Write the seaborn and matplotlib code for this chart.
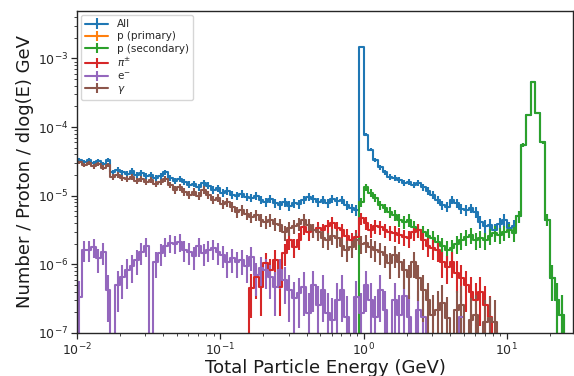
import numpy as np
import matplotlib
matplotlib.use("Agg")
import matplotlib.pyplot as plt
import seaborn as sns

# ---- data (per-bin values, 30 log bins per decade starting at 0.01 GeV) ----
labels = ["All", "p (primary)", "p (secondary)", r"$\pi^{\pm}$", r"e$^{-}$", r"$\gamma$"]

green = [0]*59 + [
    8.0e-6, 1.34e-5, 1.1e-5, 9.3e-6, 7.35e-6, 6.6e-6, 5.8e-6, 5.25e-6, 4.44e-6, 4.15e-6,
    4.44e-6, 3.5e-6, 3.17e-6, 2.95e-6, 2.6e-6, 2.4e-6, 2.1e-6, 1.85e-6, 1.62e-6, 1.72e-6,
    2.0e-6, 2.27e-6, 2.51e-6, 2.68e-6, 2.27e-6, 2.4e-6, 2.27e-6, 2.6e-6, 2.87e-6, 2.68e-6,
    2.95e-6, 3.17e-6, 2.87e-6, 5.0e-6, 5.5e-5, 1.5e-4, 4.6e-4, 1.6e-4, 6.0e-5, 4.5e-6,
    6.3e-7, 3.0e-7, 1.8e-7, 0, 0]

all_vals = [
    3.3e-5, 3.1e-5, 3.3e-5, 3.0e-5, 3.2e-5, 2.9e-5, 3.3e-5, 2.2e-5, 2.4e-5, 2.2e-5,
    2.1e-5, 2.3e-5, 2.0e-5, 2.15e-5, 1.95e-5, 2.0e-5, 1.8e-5, 1.95e-5, 2.2e-5, 1.8e-5,
    1.65e-5, 1.75e-5, 1.6e-5, 1.45e-5, 1.5e-5, 1.34e-5, 1.55e-5, 1.4e-5, 1.22e-5, 1.3e-5,
    1.1e-5, 1.18e-5, 1.03e-5, 1.0e-5, 1.06e-5, 9.6e-6, 9.3e-6, 1.0e-5, 8.7e-6, 8.1e-6,
    9.0e-6, 7.8e-6, 7.35e-6, 8.1e-6, 7.1e-6, 7.8e-6, 7.6e-6, 8.7e-6, 9.6e-6, 9.0e-6,
    8.1e-6, 8.7e-6, 7.8e-6, 9.0e-6, 8.4e-6, 8.7e-6, 7.35e-6, 6.6e-6, 6.2e-6, 1.48e-3,
    7.7e-5, 4.7e-5, 3.3e-5, 2.6e-5, 2.2e-5, 1.88e-5, 1.8e-5, 1.7e-5, 1.54e-5, 1.6e-5,
    1.44e-5, 1.54e-5, 1.34e-5, 1.18e-5, 1.03e-5, 8.7e-6, 7.35e-6, 6.9e-6, 8.7e-6, 7.8e-6,
    6.4e-6, 6.2e-6, 6.6e-6, 5.8e-6, 4.15e-6, 3.6e-6, 3.75e-6, 3.17e-6, 3.85e-6, 4.44e-6,
    3.35e-6, 3.6e-6, 5.0e-6, 5.5e-5, 1.5e-4, 4.6e-4, 1.6e-4, 6.0e-5, 4.5e-6, 6.3e-7,
    3.0e-7, 1.8e-7, 0, 0]

primary = [0]*104

pion = [0]*36 + [
    4.5e-7, 6.5e-7, 4.7e-7, 1.05e-6, 8.3e-7, 1.16e-6, 4.7e-7, 1.47e-6, 2.27e-6, 1.79e-6,
    2.27e-6, 3.5e-6, 2.95e-6, 3.17e-6, 3.35e-6, 3.17e-6, 3.6e-6, 4.0e-6, 3.35e-6, 3.17e-6,
    2.6e-6, 2.27e-6, 2.51e-6, 4.7e-6, 4.0e-6, 3.17e-6, 3.6e-6, 3.5e-6, 3.17e-6, 2.95e-6,
    2.87e-6, 2.68e-6, 2.51e-6, 2.4e-6, 2.95e-6, 3.17e-6, 2.27e-6, 1.85e-6, 1.72e-6, 1.62e-6,
    1.08e-6, 9.2e-7, 1.08e-6, 7.5e-7, 6.3e-7, 5.0e-7, 3.9e-7, 3.0e-7, 3.9e-7, 2.6e-7,
    1.7e-7] + [0]*17

electron = [
    3.3e-7, 1.62e-6, 1.62e-6, 1.79e-6, 1.22e-6, 1.5e-6, 4.2e-7, 0, 5.0e-7, 6.5e-7,
    8.3e-7, 9.5e-7, 1.16e-6, 1.5e-6, 1.85e-6, 0, 1.08e-6, 1.47e-6, 1.85e-6, 2.05e-6,
    2.0e-6, 2.15e-6, 1.62e-6, 1.5e-6, 1.32e-6, 1.85e-6, 1.47e-6, 1.62e-6, 1.72e-6, 1.5e-6,
    1.37e-6, 1.08e-6, 1.22e-6, 1.08e-6, 1.16e-6, 9.5e-7, 1.28e-6, 7.0e-7, 8.9e-7, 8.3e-7,
    6.5e-7, 4.7e-7, 8.3e-7, 5.9e-7, 4.2e-7, 3.2e-7, 3.8e-7, 4.7e-7, 1.96e-7, 5.0e-7,
    2.6e-7, 4.2e-7, 1.96e-7, 1.55e-7, 3.0e-7, 4.2e-7, 1.71e-7, 0, 3.35e-7, 1.96e-7,
    5.0e-7, 3.0e-7, 1.71e-7, 4.2e-7, 2.16e-7, 0, 3.0e-7, 1.8e-7, 3.5e-7, 1.71e-7,
    0, 2.16e-7, 1.7e-7, 0, 0, 0, 0, 0, 0, 0,
    1.7e-7] + [0]*23

gamma = [
    3.1e-5, 2.8e-5, 3.0e-5, 2.7e-5, 2.9e-5, 2.55e-5, 2.8e-5, 1.88e-5, 2.0e-5, 1.8e-5,
    1.75e-5, 1.88e-5, 1.65e-5, 1.75e-5, 1.6e-5, 1.7e-5, 1.5e-5, 1.6e-5, 1.75e-5, 1.44e-5,
    1.22e-5, 1.34e-5, 1.14e-5, 1.03e-5, 1.14e-5, 1.0e-5, 1.22e-5, 1.03e-5, 8.7e-6, 9.3e-6,
    7.6e-6, 8.1e-6, 6.9e-6, 5.8e-6, 6.2e-6, 5.4e-6, 4.9e-6, 5.25e-6, 4.44e-6, 4.15e-6,
    4.44e-6, 3.85e-6, 3.75e-6, 2.95e-6, 3.35e-6, 3.6e-6, 3.85e-6, 4.44e-6, 3.75e-6, 3.17e-6,
    2.95e-6, 2.4e-6, 2.27e-6, 2.6e-6, 2.4e-6, 1.85e-6, 1.62e-6, 1.79e-6, 2.27e-6, 2.0e-6,
    2.05e-6, 1.79e-6, 1.62e-6, 1.5e-6, 1.37e-6, 1.05e-6, 1.37e-6, 1.08e-6, 8.3e-7, 6.5e-7,
    1.08e-6, 6.3e-7, 4.2e-7, 3.0e-7, 1.8e-7, 2.16e-7, 2.74e-7, 1.65e-7, 0, 2.16e-7,
    2.6e-7, 0, 1.55e-7, 1.8e-7, 0, 1.45e-7, 1.65e-7, 1.45e-7] + [0]*16

series = [all_vals, primary, green, pion, electron, gamma]

# ---- binning / style ----
n_bins = 104
edges = np.logspace(-2, -2 + n_bins / 30.0, n_bins + 1)
centers = np.sqrt(edges[:-1] * edges[1:])
UNIT = 1.8e-7  # value of one entry, sets Poisson error bars

sns.set_style("ticks")
palette = sns.color_palette("tab10")
plt.rcParams["font.family"] = ["DejaVu Sans"]

fig = plt.figure(figsize=(5.74, 3.76), dpi=100)
ax = fig.add_axes([77 / 574, 1 - 333 / 376, 496 / 574, 322 / 376])

for i, (lab, vals) in enumerate(zip(labels, series)):
    v = np.asarray(vals, dtype=float)
    err = np.sqrt(v * UNIT)
    ax.errorbar(centers, v, yerr=err, drawstyle="steps-mid", color=palette[i],
                lw=1.5, elinewidth=1.5, capsize=0, label=lab)

ax.set_xscale("log")
ax.set_yscale("log", nonpositive="clip")
ax.set_xlim(0.01, 29)
ax.set_ylim(1e-7, 4.9e-3)

ax.set_xlabel("Total Particle Energy (GeV)", fontsize=13, color="0.1", labelpad=1)
ax.set_ylabel("Number / Proton / dlog(E) GeV", fontsize=13, color="0.1", labelpad=3)
ax.tick_params(which="major", labelsize=9, length=4, width=0.9, colors="0.15", pad=2)
ax.tick_params(which="minor", length=2.2, width=0.6, colors="0.15")
for s in ax.spines.values():
    s.set_linewidth(1.0)
    s.set_color("0.15")

leg = ax.legend(loc="upper left", fontsize=7.5, labelspacing=0.2, handlelength=2.2,
                handletextpad=0.8, borderpad=0.4, frameon=True, framealpha=0.8,
                edgecolor="0.8", borderaxespad=0.4)

fig.savefig("out.png", dpi=100)
